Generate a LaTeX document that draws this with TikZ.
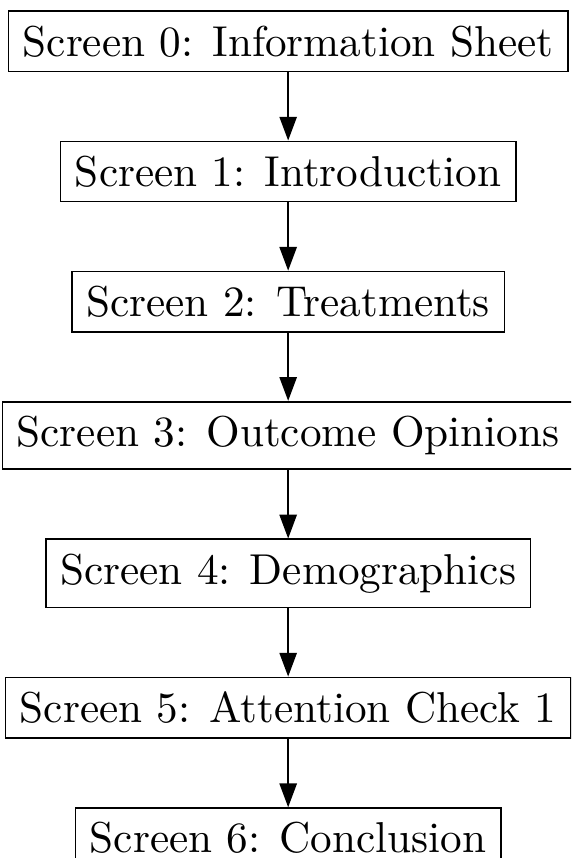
\documentclass[tikz,border=0pt]{standalone}
\usetikzlibrary{positioning,arrows.meta}
\tikzset{
  screenbox/.style={draw, rectangle, inner sep=3.33pt, line width=0.4pt},
  flowarrow/.style={-{Triangle[length=5.5pt,width=4pt]}, line width=0.4pt}
}
\begin{document}
\begin{tikzpicture}[node distance=15.8pt]
\useasboundingbox (0,0) rectangle (132.2pt,-198.6pt);
\clip (0,0) rectangle (132.2pt,-198.6pt);
\node[screenbox, anchor=north] (s0) at (66.7pt,-2.4pt) {Screen 0: Information Sheet};
\node[screenbox, below=of s0] (s1) {Screen 1: Introduction};
\node[screenbox, below=of s1] (s2) {Screen 2: Treatments};
\node[screenbox, below=of s2] (s3) {Screen 3: Outcome Opinions};
\node[screenbox, below=of s3] (s4) {Screen 4: Demographics};
\node[screenbox, below=of s4] (s5) {Screen 5: Attention Check 1};
\node[screenbox, below=of s5] (s6) {Screen 6: Conclusion};
\draw[flowarrow] (s0) -- (s1);
\draw[flowarrow] (s1) -- (s2);
\draw[flowarrow] (s2) -- (s3);
\draw[flowarrow] (s3) -- (s4);
\draw[flowarrow] (s4) -- (s5);
\draw[flowarrow] (s5) -- (s6);
\end{tikzpicture}
\end{document}
